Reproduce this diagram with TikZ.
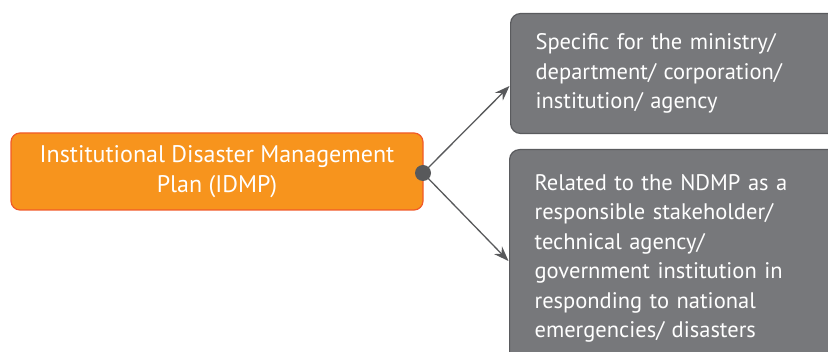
\documentclass[tikz,border=0pt]{standalone}
\usepackage{fontspec}
\setmainfont{PT Sans}
\usetikzlibrary{arrows.meta}
\definecolor{orfill}{HTML}{F7941D}
\definecolor{orline}{HTML}{F15A29}
\definecolor{gyfill}{HTML}{77787B}
\definecolor{gyline}{HTML}{5A5B5E}
\definecolor{conn}{HTML}{58595B}
\tikzset{
  mainbox/.style={draw=orline, line width=1.2pt, fill=orfill, rounded corners=9pt, text=white,
    minimum width=412pt, minimum height=77pt, align=center, inner sep=0pt,
    font=\fontsize{24}{30}\selectfont},
  greybox/.style={draw=gyline, line width=1.2pt, fill=gyfill, rounded corners=10pt, text=white,
    text width=300pt, align=left, inner xsep=25pt, inner ysep=0pt,
    font=\fontsize{22.5}{29.5}\selectfont},
  conline/.style={draw=conn, line width=1.3pt, -{Stealth[length=15pt,width=11pt,inset=5pt]}},
}
\begin{document}
\begin{tikzpicture}[x=1pt,y=-1pt]
\useasboundingbox (0,0) rectangle (828,352);
\node[mainbox] (idmp) at (217,171.5) {Institutional Disaster Management\\Plan (IDMP)};
\node[greybox, minimum height=120pt, anchor=west] (spec) at (510,73.5) {Specific for the ministry/\\department/ corporation/\\institution/ agency};
\node[greybox, minimum height=218pt, anchor=north west] (rel) at (509,149) {Related to the NDMP as a\\responsible stakeholder/\\technical agency/\\government institution in\\responding to national\\emergencies/ disasters};
\node[circle, fill=conn, minimum size=16pt, inner sep=0pt] (dot) at (423,173) {};
\coordinate (t1) at (509.5,86);
\coordinate (t2) at (508.5,261);
\draw[conline] (dot.center) -- (t1);
\draw[conline] (dot.center) -- (t2);
\end{tikzpicture}
\end{document}
